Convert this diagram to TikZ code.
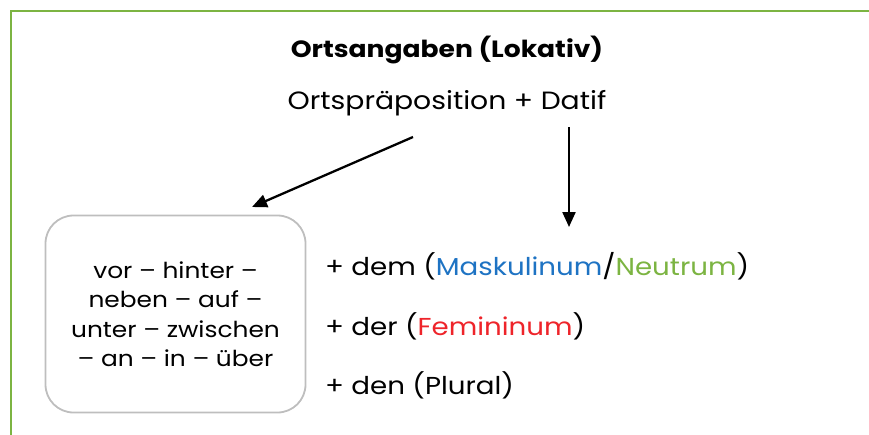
\documentclass[tikz,border=0pt]{standalone}
\usepackage{fontspec}
\setmainfont{Poppins}[FakeStretch=1.13]
\usetikzlibrary{arrows.meta}
\definecolor{framegreen}{RGB}{124,180,66}
\definecolor{boxgray}{RGB}{190,190,190}
\definecolor{mascblue}{RGB}{30,115,195}
\definecolor{neutgreen}{RGB}{124,180,66}
\definecolor{femred}{RGB}{238,36,42}
\tikzset{
  frameline/.style={draw=framegreen, line width=2.6pt},
  listbox/.style={draw=boxgray, line width=1.8pt, rounded corners=28pt, minimum width=260pt, minimum height=197pt, align=center, inner sep=0pt, font=\fontsize{22}{29.5}\selectfont},
  arrowline/.style={line width=2.3pt, -{Triangle[length=15pt,width=13pt]}},
  casetext/.style={anchor=base west, inner sep=0pt, font=\fontsize{24.5}{29}\selectfont},
}
\begin{document}
\begin{tikzpicture}[x=1pt, y=-1pt]
\useasboundingbox (0,0) rectangle (869,434);
\draw[frameline] (11,440) -- (11,11) -- (875,11);
\node[anchor=base, inner sep=0pt, font=\fontsize{23.5}{28}\selectfont\bfseries] (title) at (447,57) {Ortsangaben (Lokativ)};
\node[anchor=base, inner sep=0pt, font=\fontsize{25}{30}\selectfont] (sub) at (447,109) {Ortspräposition + Datif};
\node[listbox] (box) at (175.5,314) {vor – hinter –\\neben – auf –\\unter – zwischen\\– an – in – über};
\node[casetext] (dem) at (325,275) {+ dem (\textcolor{mascblue}{Maskulinum}/\textcolor{neutgreen}{Neutrum})};
\node[casetext] (der) at (325,335) {+ der (\textcolor{femred}{Femininum})};
\node[casetext] (den) at (325,394) {+ den (Plural)};
\coordinate (a1s) at (413,137);
\coordinate (a1e) at (252,207);
\coordinate (a2s) at (569,127);
\coordinate (a2e) at (569,227);
\draw[arrowline] (a1s) -- (a1e);
\draw[arrowline] (a2s) -- (a2e);
\end{tikzpicture}
\end{document}
